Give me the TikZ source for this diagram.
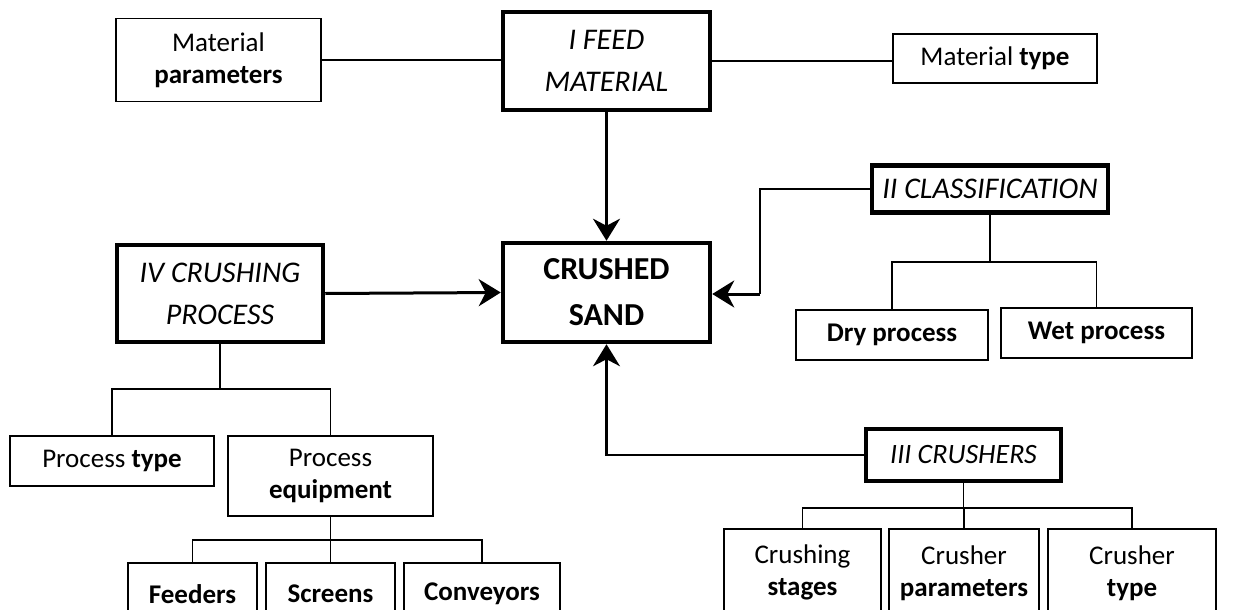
\documentclass[tikz,border=0pt]{standalone}
\usepackage{fontspec}
\setmainfont{Carlito}
\usetikzlibrary{arrows.meta}
\newcommand\dfont{\fontsize{27}{32}\selectfont}
\newcommand\hfont{\fontsize{30}{42}\selectfont\itshape}
\begin{document}
\begin{tikzpicture}[x=1pt,y=-1pt,
  box/.style={draw, line width=1.5pt, align=center, inner sep=0pt, font=\dfont},
  mainbox/.style={draw, line width=4.5pt, align=center, inner sep=0pt, font=\hfont},
  thinline/.style={line width=1.5pt},
  conn/.style={line width=3pt, -{Stealth[length=22pt,width=27pt,inset=7pt]}}]
\useasboundingbox (0,0) rectangle (1235,610);
\clip (0,0) rectangle (1235,610);
% top row
\node[mainbox, minimum width=207, minimum height=98] (feed) at (606.5,61) {I FEED\\MATERIAL};
\node[box, minimum width=205, minimum height=83] (matpar) at (218.5,60) {Material\\\textbf{parameters}};
\node[box, minimum width=204, minimum height=49] (mattype) at (995,58.5) {Material \textbf{type}};
% centre
\node[mainbox, font=\fontsize{32}{46}\selectfont\bfseries, minimum width=207, minimum height=99] (sand) at (606.5,292.5) {CRUSHED\\SAND};
\node[mainbox, minimum width=236, minimum height=47] (cls) at (990,189) {II CLASSIFICATION};
\node[mainbox, font=\fontsize{28}{34}\selectfont\itshape, minimum width=195, minimum height=52] (crs) at (963.5,455) {III CRUSHERS};
\node[mainbox, minimum width=206, minimum height=97] (cp) at (220,293.5) {IV CRUSHING\\PROCESS};
% sub-boxes
\node[box, minimum width=204, minimum height=50] (ptype) at (112,461) {Process \textbf{type}};
\node[box, minimum width=205, minimum height=80] (pequip) at (330.5,476) {Process\\\textbf{equipment}};
\node[box, font=\dfont\bfseries, minimum width=192, minimum height=50] (dry) at (892,335) {Dry process};
\node[box, font=\dfont\bfseries, minimum width=191, minimum height=50] (wet) at (1096.5,333) {Wet process};
\node[box, font=\dfont\bfseries, anchor=north, minimum width=129, minimum height=62] (feeders) at (192.5,562) {Feeders};
\node[box, font=\dfont\bfseries, anchor=north, minimum width=129, minimum height=62] (screens) at (330.5,562) {Screens};
\node[box, font=\dfont\bfseries, anchor=north, minimum width=156, minimum height=62] (conv) at (482,562) {Conveyors};
\node[box, anchor=north, minimum width=157, minimum height=88] (stages) at (802.5,528) {Crushing\\\textbf{stages}};
\node[box, anchor=north, minimum width=150, minimum height=88] (cparam) at (964,528) {Crusher\\\textbf{parameters}};
\node[box, anchor=north, minimum width=168, minimum height=88] (ctype) at (1132,528) {Crusher\\\textbf{type}};
% connectors
\draw[thinline] (matpar.east) -- (feed.west |- matpar.east);
\draw[thinline] (feed.east) -- (mattype.west |- feed.east);
\draw[conn] (feed.south) -- (sand.north);
\draw[conn] (cp.east) -- (sand.west);
\coordinate (c2) at (760,294);
\draw[thinline] (cls.west) -| (c2);
\draw[conn] (c2) -- (sand.east |- c2);
\draw[conn, line width=2.2pt] (crs.west) -| (sand.south);
% tree IV
\coordinate (b4) at (219.5,389);
\draw[thinline] (cp.south) -- (cp.south |- b4);
\draw[thinline] (ptype.north) -- (ptype.north |- b4) -- (pequip.north |- b4) -- (pequip.north);
\coordinate (be) at (0,540);
\draw[thinline] (pequip.south) -- (pequip.south |- be);
\draw[thinline] (feeders.north) -- (feeders.north |- be) -- (conv.north |- be) -- (conv.north);
\draw[thinline] (screens.north) -- (screens.north |- be);
% tree II
\coordinate (b2) at (0,262);
\draw[thinline] (cls.south) -- (cls.south |- b2);
\draw[thinline] (dry.north) -- (dry.north |- b2) -- (wet.north |- b2) -- (wet.north);
% tree III
\coordinate (b3) at (0,508);
\draw[thinline] (crs.south) -- (crs.south |- b3);
\draw[thinline] (stages.north) -- (stages.north |- b3) -- (ctype.north |- b3) -- (ctype.north);
\draw[thinline] (cparam.north) -- (cparam.north |- b3);
\end{tikzpicture}
\end{document}
